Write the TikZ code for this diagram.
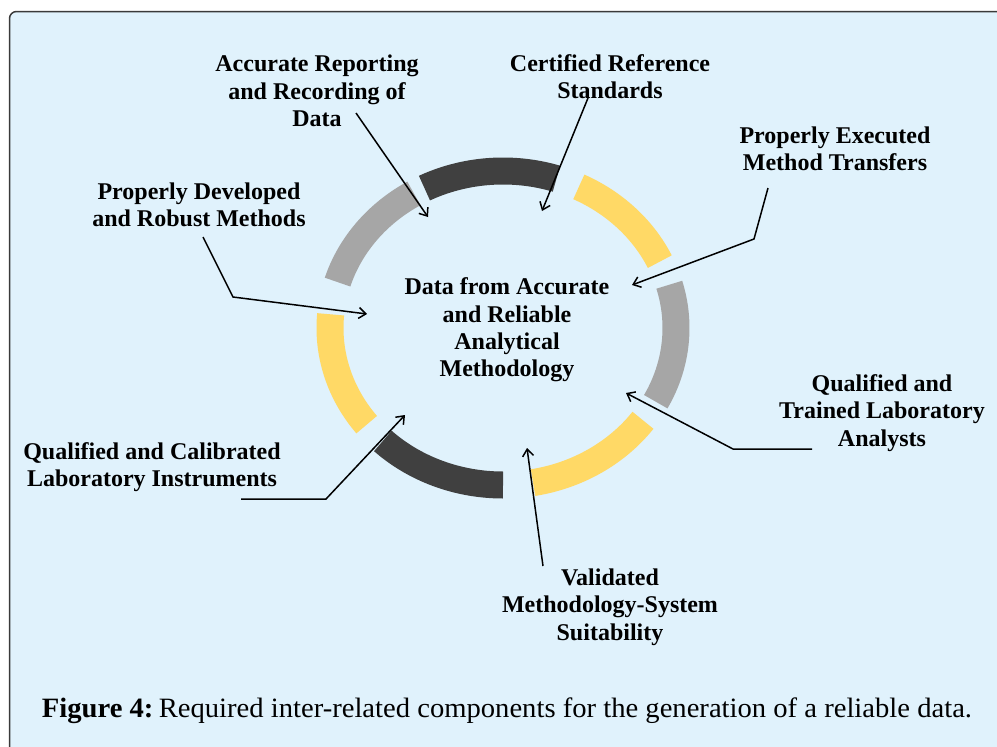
\documentclass[tikz,border=0pt]{standalone}
\usepackage{fontspec}
\usepackage{graphicx}
\setmainfont{Liberation Serif}
\usetikzlibrary{arrows.meta}
\definecolor{bg}{HTML}{E0F2FC}
\definecolor{ringdark}{HTML}{404040}
\definecolor{ringyellow}{HTML}{FFD966}
\definecolor{ringgray}{HTML}{A6A6A6}
\definecolor{framecol}{HTML}{3A3A3A}
\tikzset{
  lbl/.style={font=\fontsize{24}{27.3}\selectfont\bfseries, align=center, inner sep=0pt},
  arr/.style={line width=1.5pt, draw=black, -{Straight Barb[length=7pt,width=11pt,line width=1.5pt]}},
  seg/.style={line width=27pt, line cap=butt},
  framebox/.style={draw=framecol, line width=1.5pt, fill=bg, rounded corners=7pt}
}
\begin{document}
\begin{tikzpicture}[x=1pt,y=-1pt]
\useasboundingbox (0,0) rectangle (997,747);
\clip (0,0) rectangle (997,747);
\fill[white] (0,0) rectangle (997,747);
\draw[framebox] (9.5,11.5) rectangle (1020,770);

% ring segments
\foreach \a/\b/\c in {121/163/ringgray, 175/218/ringyellow, 226/270/ringdark, 280/324/ringyellow, 332/376/ringgray, 25/64/ringyellow, 72/117/ringdark}
  \draw[seg, color=\c] plot[domain=\a:\b, samples=60] ({503+173*cos(\x)},{328-157*sin(\x)});

% labels
\node[lbl] (center) at (507,330) {Data from Accurate\\and Reliable\\Analytical\\Methodology};
\node[lbl] (l1) at (317,91) {Accurate Reporting\\and Recording of\\Data};
\node[lbl] (l2) at (610,77) {Certified Reference\\Standards};
\node[lbl] (l3) at (835,149) {Properly Executed\\Method Transfers};
\node[lbl] (l4) at (199,205) {Properly Developed\\and Robust Methods};
\node[lbl] (l5) at (882,413) {Qualified and\\Trained Laboratory\\Analysts};
\node[lbl] (l6) at (152,467) {Qualified and Calibrated\\Laboratory Instruments};
\node[lbl] (l7) at (610,607) {Validated\\Methodology-System\\Suitability};

\node (cap) at (507,711) {\resizebox{930pt}{\height}{\fontsize{28}{32}\selectfont\textbf{Figure 4:}\hspace{-0.15em} Required inter-related components for the generation of a reliable data.}};

% connector points
\coordinate (a1s) at (356,113);
\coordinate (a1e) at (428,217);
\coordinate (a2s) at (588,98);
\coordinate (a2e) at (542,211);
\coordinate (a3s) at (768,188);
\coordinate (a3c) at (754,239);
\coordinate (a3e) at (632,285);
\coordinate (a4s) at (203,237);
\coordinate (a4c) at (233,297);
\coordinate (a4e) at (367,314);
\coordinate (a5s) at (812,449);
\coordinate (a5c) at (733,449);
\coordinate (a5e) at (626,393);
\coordinate (a6s) at (241,499);
\coordinate (a6c) at (326,499);
\coordinate (a6e) at (405,415);
\coordinate (a7s) at (543,566);
\coordinate (a7e) at (527,448);

\draw[arr] (a1s) -- (a1e);
\draw[arr] (a2s) -- (a2e);
\draw[arr] (a3s) -- (a3c) -- (a3e);
\draw[arr] (a4s) -- (a4c) -- (a4e);
\draw[arr] (a5s) -- (a5c) -- (a5e);
\draw[arr] (a6s) -- (a6c) -- (a6e);
\draw[arr] (a7s) -- (a7e);
\end{tikzpicture}
\end{document}
